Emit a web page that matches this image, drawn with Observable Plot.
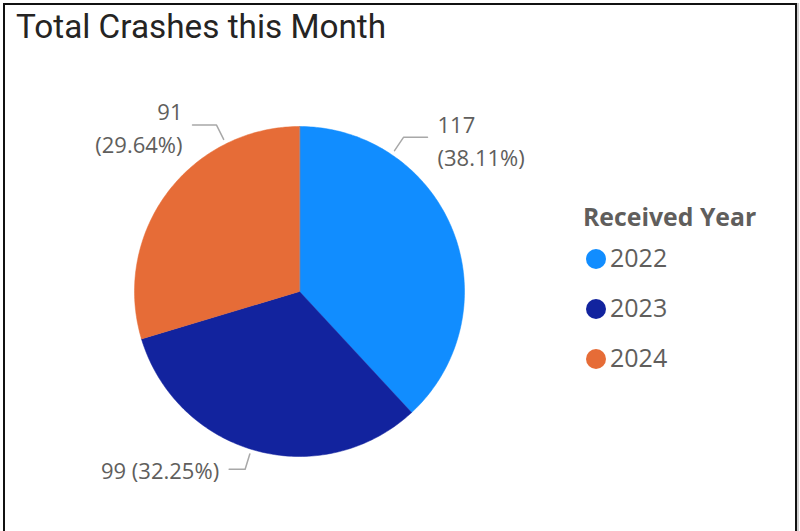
<!DOCTYPE html>
<html>
<head>
<meta charset="utf-8">
<script src="https://cdn.jsdelivr.net/npm/d3@7"></script>
<script src="https://cdn.jsdelivr.net/npm/@observablehq/plot@0.6"></script>
<style>
  html, body { margin: 0; padding: 0; background: #fff; }
  #wrap { position: relative; width: 800px; height: 531px; overflow: hidden; }
  #chart { position: absolute; left: 0; top: 0; }
  .title { position: absolute; left: 16px; top: 10px; font-family: Roboto, sans-serif; font-size: 33.3px; line-height: 1; color: #252423; white-space: nowrap; }
  .lg-title { position: absolute; left: 583px; top: 203.8px; font-family: "Open Sans", sans-serif; font-weight: 700; font-size: 24.8px; line-height: 1; color: #605E5C; white-space: nowrap; }
  .lg-item { position: absolute; left: 586px; height: 25px; }
  .lg-dot { position: absolute; left: 0; width: 20px; height: 20px; border-radius: 50%; }
  .lg-text { position: absolute; left: 24px; top: 0; font-family: "Open Sans", sans-serif; font-size: 25px; line-height: 1; color: #605E5C; white-space: nowrap; }
  .border { position: absolute; left: 3px; top: 3px; width: 794px; height: 560px; box-sizing: border-box; border: 2px solid #111; box-shadow: 2px 0 0 #cfcfcf; pointer-events: none; }
</style>
</head>
<body>
<div id="wrap">
  <div id="chart"></div>
  <div class="title" id="title"></div>
  <div class="lg-title" id="lgtitle"></div>
  <div id="legend"></div>
  <div class="border"></div>
</div>
<script>
// ---- data ----
const years = ["2022", "2023", "2024"];
const crashes = [117, 99, 91];
const percentLabels = ["38.11%", "32.25%", "29.64%"];
const colors = ["#118DFF", "#12239E", "#E66C37"];
const titleText = "Total Crashes this Month";
const legendTitle = "Received Year";

// ---- label layout (angle from 12 o'clock, clockwise, in degrees) ----
const labelAngle = [34, 197, 333.5];
const labelSide = [1, -1, -1];
const labelTwoLine = [true, false, true];
const leaderLenPx = [24, 16, 24];

// ---- geometry ----
const radiusPx = 165;
const pie = d3.pie().sort(null).value(d => d)(crashes);

const slicePts = [];
pie.forEach((p, i) => {
  slicePts.push({x: 0, y: 0, year: years[i]});
  const n = Math.max(2, Math.ceil((p.endAngle - p.startAngle) * 180 / Math.PI));
  for (let k = 0; k <= n; k++) {
    const a = p.startAngle + (p.endAngle - p.startAngle) * k / n;
    slicePts.push({x: Math.sin(a), y: Math.cos(a), year: years[i]});
  }
});

const leaders = [];
const labels = [];
years.forEach((yr, i) => {
  const a = labelAngle[i] * Math.PI / 180;
  const r0 = 1.03, r1 = 1.127;
  const ex = r1 * Math.sin(a), ey = r1 * Math.cos(a);
  const endX = ex + labelSide[i] * leaderLenPx[i] / radiusPx;
  leaders.push({x: r0 * Math.sin(a), y: r0 * Math.cos(a), year: yr});
  leaders.push({x: ex, y: ey, year: yr});
  leaders.push({x: endX, y: ey, year: yr});
  const txt = labelTwoLine[i]
    ? `${crashes[i]}\n(${percentLabels[i]})`
    : `${crashes[i]} (${percentLabels[i]})`;
  labels.push({x: endX, y: ey, text: txt, side: labelSide[i], two: labelTwoLine[i]});
});

const textStyle = {fontFamily: "Open Sans", fontSize: 22, fill: "#605E5C", lineHeight: 1.5, lineAnchor: "middle"};

const chart = Plot.plot({
  width: 800,
  height: 531,
  marginLeft: 134,
  marginRight: 336,
  marginTop: 126,
  marginBottom: 75,
  x: {domain: [-1, 1], axis: null},
  y: {domain: [-1, 1], axis: null},
  color: {domain: years, range: colors},
  style: {background: "transparent", overflow: "visible"},
  marks: [
    Plot.line(slicePts, {x: "x", y: "y", z: "year", fill: "year", stroke: "year", strokeWidth: 0.5, curve: "linear-closed"}),
    Plot.line(leaders, {x: "x", y: "y", z: "year", stroke: "#A8A8A8", strokeWidth: 1.5}),
    Plot.text(labels.filter(d => d.side > 0), {x: "x", y: "y", text: "text", textAnchor: "start", dx: 10, dy: 1.5, ...textStyle}),
    Plot.text(labels.filter(d => d.side < 0 && d.two), {x: "x", y: "y", text: "text", textAnchor: "end", dx: -10, dy: 0.5, ...textStyle}),
    Plot.text(labels.filter(d => d.side < 0 && !d.two), {x: "x", y: "y", text: "text", textAnchor: "end", dx: -10, dy: -0.5, ...textStyle})
  ]
});
document.getElementById("chart").appendChild(chart);

document.getElementById("title").textContent = titleText;
document.getElementById("lgtitle").textContent = legendTitle;
const lg = document.getElementById("legend");
years.forEach((yr, i) => {
  const item = document.createElement("div");
  item.className = "lg-item";
  item.style.top = (245.3 + i * 50) + "px";
  const dot = document.createElement("div");
  dot.className = "lg-dot";
  dot.style.background = colors[i];
  dot.style.top = (249 - 245.3) + "px";
  const t = document.createElement("div");
  t.className = "lg-text";
  t.textContent = yr;
  item.appendChild(dot);
  item.appendChild(t);
  lg.appendChild(item);
});
</script>
</body>
</html>
